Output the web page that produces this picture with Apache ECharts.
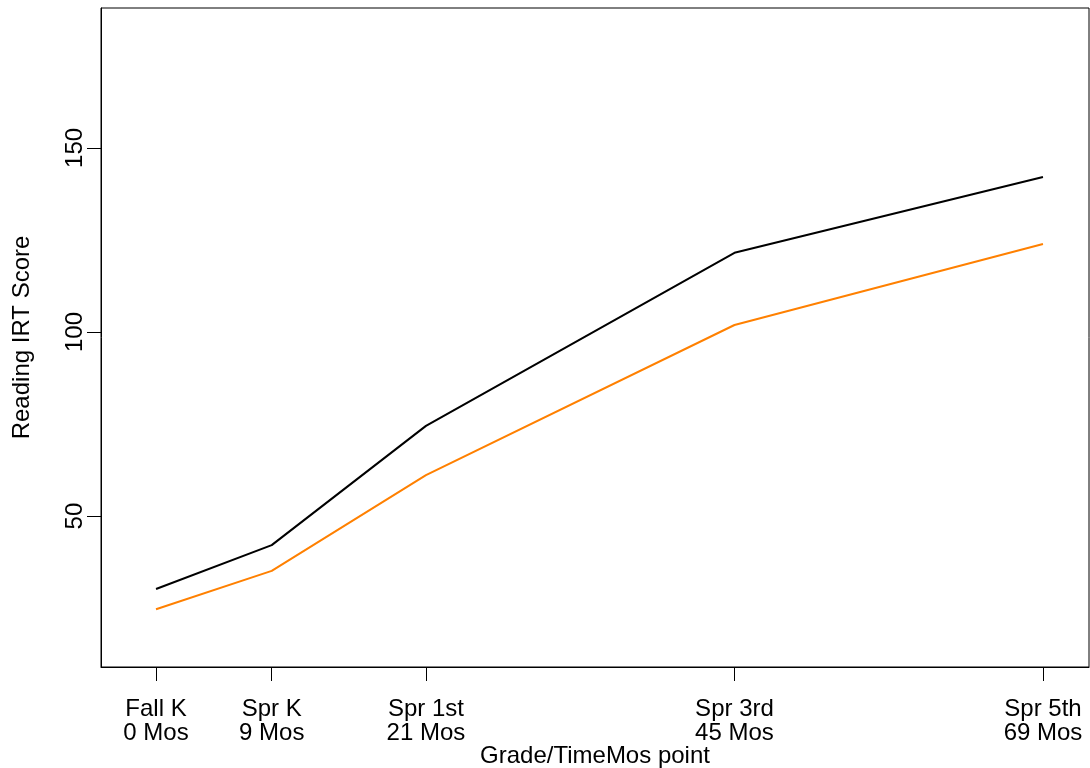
<!DOCTYPE html>
<html>
<head>
<meta charset="utf-8">
<script src="https://cdn.jsdelivr.net/npm/echarts@6/dist/echarts.min.js"></script>
<style>
  html, body { margin: 0; padding: 0; background: #fff; }
  #chart { width: 1090px; height: 768px; }
</style>
</head>
<body>
<div id="chart"></div>
<script>
// Time points (months since fall of kindergarten) and their grade labels
const months = [0, 9, 21, 45, 69];
const gradeLabels = ['Fall K', 'Spr K', 'Spr 1st', 'Spr 3rd', 'Spr 5th'];
const yTicks = [50, 100, 150];

// Mean reading IRT scores for the two groups
const groupA = [30.2, 42.1, 74.5, 121.5, 142.1];
const groupB = [24.7, 35.1, 61.1, 101.9, 123.9];

const FONT = 'Liberation Sans, Arial, Helvetica, sans-serif';

function pairs(xs, ys) {
  return xs.map((x, i) => [x, ys[i]]);
}

const chart = echarts.init(document.getElementById('chart'), null, { renderer: 'canvas' });

chart.setOption({
  animation: false,
  backgroundColor: '#ffffff',
  grid: {
    left: 101, right: 1, top: 8, bottom: 101,
    outerBoundsMode: 'none',
    containLabel: false,
    show: true, borderColor: '#000', borderWidth: 1, backgroundColor: 'transparent'
  },
  xAxis: {
    type: 'value',
    min: -4.28, max: 72.58,
    splitLine: { show: false },
    axisLine: { show: true, onZero: false, lineStyle: { color: '#000', width: 1 } },
    axisTick: {
      show: true, length: 14, inside: false, customValues: months,
      lineStyle: { color: '#000', width: 1 }
    },
    axisLabel: {
      customValues: months,
      margin: 30,
      color: '#000',
      fontFamily: FONT,
      fontSize: 24,
      lineHeight: 24,
      formatter: v => {
        const i = months.indexOf(v);
        return i < 0 ? '' : gradeLabels[i] + '\n' + v + ' Mos';
      }
    },
    name: 'Grade/TimeMos point',
    nameLocation: 'middle',
    nameGap: 77,
    nameMoveOverlap: false,
    nameTextStyle: { color: '#000', fontFamily: FONT, fontSize: 24, lineHeight: 24 }
  },
  yAxis: {
    type: 'value',
    min: 9, max: 188,
    splitLine: { show: false },
    axisLine: { show: true, onZero: false, lineStyle: { color: '#000', width: 1 } },
    axisTick: {
      show: true, length: 14, customValues: yTicks,
      lineStyle: { color: '#000', width: 1 }
    },
    axisLabel: {
      customValues: yTicks,
      rotate: 90,
      margin: 14,
      color: '#000',
      fontFamily: FONT,
      fontSize: 24
    },
    name: 'Reading IRT Score',
    nameLocation: 'middle',
    nameGap: 67,
    nameRotate: 90,
    nameMoveOverlap: false,
    nameTextStyle: { color: '#000', fontFamily: FONT, fontSize: 24 }
  },
  series: [
    {
      name: 'Group A',
      type: 'line',
      data: pairs(months, groupA),
      showSymbol: false,
      lineStyle: { color: '#000000', width: 2 },
      itemStyle: { color: '#000000' }
    },
    {
      name: 'Group B',
      type: 'line',
      data: pairs(months, groupB),
      showSymbol: false,
      lineStyle: { color: '#ff8000', width: 2 },
      itemStyle: { color: '#ff8000' }
    }
  ]
});
</script>
</body>
</html>
